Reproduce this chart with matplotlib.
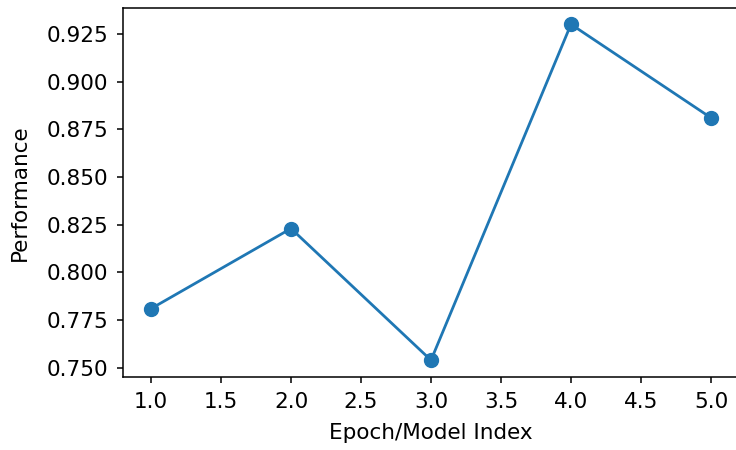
import matplotlib
matplotlib.use('Agg')
import matplotlib.pyplot as plt

epochs = [1, 2, 3, 4, 5]
performance = [0.781, 0.823, 0.754, 0.930, 0.881]

fig = plt.figure(figsize=(7.36, 4.5), dpi=100)
ax = fig.add_axes([123 / 736, 1 - 377 / 450, 616 / 736, 369.5 / 450])
ax.plot(epochs, performance, marker='o', markersize=10, linewidth=2)
ax.set_xlabel('Epoch/Model Index', fontsize=15.5, labelpad=8)
ax.set_ylabel('Performance', fontsize=15.5, labelpad=12)
ax.tick_params(labelsize=15.5, length=4.5, width=1.1, pad=6)
for s in ax.spines.values():
    s.set_linewidth(1.1)
ax.spines['right'].set_visible(False)

fig.savefig('out.png', dpi=100)
